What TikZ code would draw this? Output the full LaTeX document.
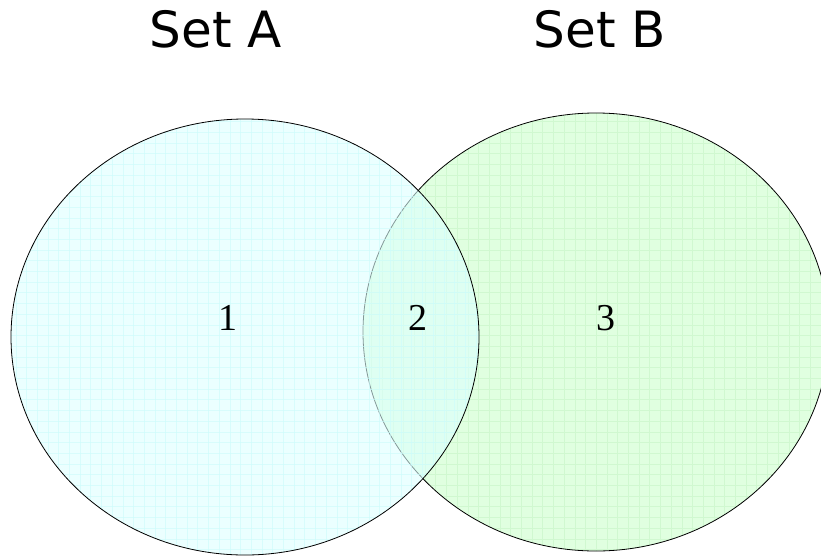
\documentclass[tikz,border=0pt]{standalone}
\usepackage{fontspec}
\setmainfont{Liberation Serif}
\newfontfamily\titlefont{DejaVu Sans}
\definecolor{seta}{HTML}{DDFFFF}
\definecolor{setb}{HTML}{E0FFE0}
\definecolor{grida}{HTML}{CCFCFC}
\definecolor{gridb}{HTML}{D0F8D0}

\begin{document}
\begin{tikzpicture}[x=1pt,y=-1pt,
    title/.style={font=\titlefont\fontsize{50}{60}\selectfont},
    num/.style={font=\fontsize{38}{44}\selectfont}]
      \useasboundingbox (0,0) rectangle (821,557);
      \clip (0,0) rectangle (821,557);

      % set B underneath
      \fill[setb] (596,332) ellipse [x radius=233, y radius=219];
      \begin{scope}
        \clip (596,332) ellipse [x radius=233, y radius=219];
        \foreach \k in {0,...,46} {
          \draw[gridb, line width=0.4pt] (350+10.7*\k,100) -- (350+10.7*\k,560);
          \draw[gridb, line width=0.4pt] (350,100+10.7*\k) -- (840,100+10.7*\k);
        }
      \end{scope}
      \draw[line width=0.8pt] (596,332) ellipse [x radius=233, y radius=219];

      % set A on top, see-through
      \begin{scope}[opacity=0.6]
        \fill[seta] (245,337) ellipse [x radius=234, y radius=218];
        \clip (245,337) ellipse [x radius=234, y radius=218];
        \foreach \k in {0,...,46} {
          \draw[grida, line width=0.4pt] (5+10.7*\k,100) -- (5+10.7*\k,560);
          \draw[grida, line width=0.4pt] (0,100+10.7*\k) -- (490,100+10.7*\k);
        }
      \end{scope}
      \draw[line width=0.8pt] (245,337) ellipse [x radius=234, y radius=218];

      \path
      (216,29) node[title](setA) {Set A}
      (600,29) node[title](setB) {Set B}
      ;
      \path
      (228,318) node[num](one) {1}
      (418,318) node[num](two) {2}
      (606,318) node[num](three) {3}
      ;
    \end{tikzpicture}
\end{document}
